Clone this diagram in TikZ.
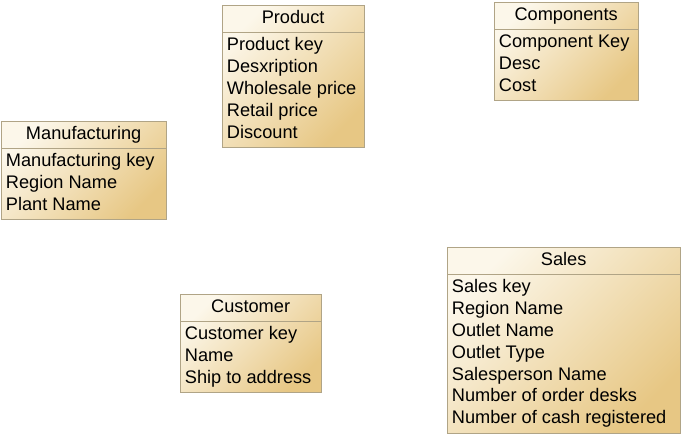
\documentclass[tikz,border=0pt]{standalone}
\usepackage{fontspec}
\setmainfont{Liberation Sans}
\usetikzlibrary{shapes.multipart}
\definecolor{tblight}{RGB}{252,247,234}
\definecolor{tbdark}{RGB}{231,199,132}
\definecolor{tbline}{RGB}{176,164,134}
\newcommand{\attrlist}[2]{\parbox{#1}{\strut#2\strut}}
\begin{document}
\begin{tikzpicture}
  [x=1pt,y=-1pt,every node/.style={font=\fontsize{18.2}{21.8}\selectfont},
   table/.style={rectangle split,rectangle split parts=2,draw=tbline,line width=0.8pt,
     top color=tblight,bottom color=tbdark,shading angle=45,
     inner xsep=4.5pt,inner ysep=2.4pt,anchor=north west}]
\useasboundingbox (0,0) rectangle (681,434);
\node (product)[table] at (222,5) {\strut Product
  \nodepart{two}\attrlist{132.5pt}{Product key\\Desxription\\Wholesale price\\Retail price\\Discount}};
  \node (components)[table] at (494,2) {\strut Components
  \nodepart{two}\attrlist{134.5pt}{Component Key\\Desc\\Cost}};
  \node (manufacturing)[table] at (1,121) {\strut Manufacturing
  \nodepart{two}\attrlist{155.5pt}{Manufacturing key\\Region Name\\Plant Name}};
  \node (customer)[table] at (180,294) {\strut Customer
  \nodepart{two}\attrlist{131.5pt}{Customer key\\Name\\Ship to address}};
  \node (sales)[table] at (447,247) {\strut Sales
  \nodepart{two}\attrlist{223.5pt}{Sales key\\Region Name\\Outlet Name\\Outlet Type\\Salesperson Name\\Number of order desks\\Number of cash registered}};
\end{tikzpicture}
\end{document}
